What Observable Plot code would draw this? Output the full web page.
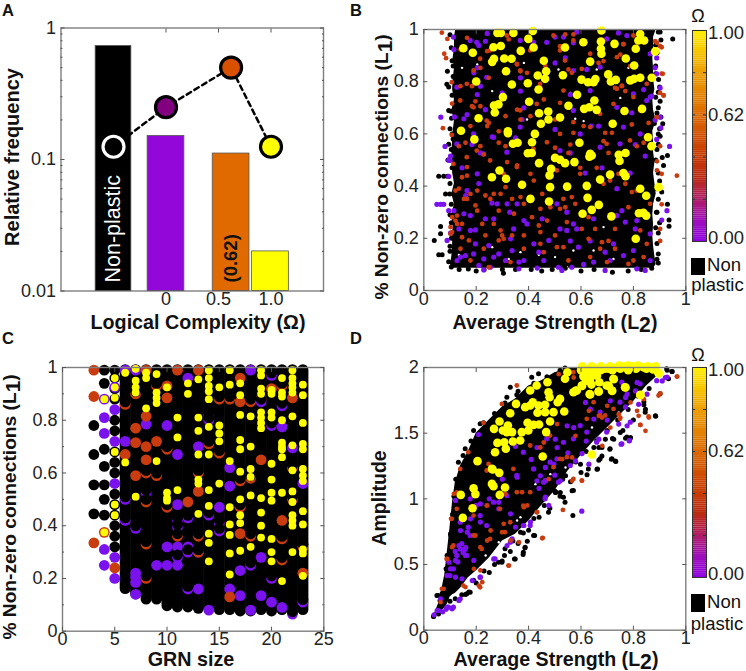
<!DOCTYPE html>
<html><head><meta charset="utf-8">
<script src="https://cdn.jsdelivr.net/npm/d3@7"></script>
<script src="https://cdn.jsdelivr.net/npm/@observablehq/plot@0.6"></script>
<style>
html,body{margin:0;padding:0;background:#fff}
#page{position:relative;width:746px;height:671px;overflow:hidden;font-family:"Liberation Sans",sans-serif;color:#111}
#page svg{position:absolute;overflow:visible}
.t{position:absolute;white-space:nowrap;line-height:1;transform:translate(-50%,-50%)}
.b{font-weight:bold}
.t sub{font-size:1.08em;line-height:0;vertical-align:-0.15em}
</style></head><body><div id="page"></div>
<script>
const PURPLE="#7a12ee", RED="#c83c10", YELLOW="#ffff00", FRAME="#7f7f7f";

// ---- Panel A
const aNames=["Non-plastic","0","0.62","1.0"];
const aBarX1=[-0.67,-0.175,0.445,0.82];
const aBarX2=[-0.33,0.175,0.795,1.17];
const aBarH=[0.73,0.151,0.111,0.02];
const aBarFill=["#000000","#9208d8","#e06a00","#ffff00"];
const aLineX=[-0.5,0,0.62,1];
const aLineY=[0.125,0.25,0.5,0.125];
const aDotFill=["#000000","#800080","#d95000","#ffff00"];
const aDotStroke=["#ffffff","#000000","#000000","#000000"];

// ---- Panel B: dense black mass outline (Non-plastic), then readable dots
const bMassY=[1,.97,.93,.89,.85,.81,.77,.73,.69,.65,.61,.57,.53,.49,.45,.41,.37,.33,.29,.25,.21,.17,.13,.1,.085];
const bMassL=[.122,.117,.117,.112,.117,.112,.11,.117,.107,.117,.112,.11,.107,.11,.11,.117,.107,.117,.107,.112,.11,.11,.107,.102,.107];
const bMassR=[.887,.877,.877,.874,.877,.877,.882,.874,.877,.887,.874,.877,.877,.882,.877,.882,.887,.877,.874,.877,.874,.877,.882,.887,.877];
const bGaps=[[.146,.853],[.204,.866],[.261,.764],[.382,.872],[.394,.655],[.514,.847],[.66,.847],[.75,.738],[.578,.658],[.61,.649],[.559,.757],[.781,.853],[.261,.166],[.369,.147],[.439,.137],[.134,.136],[.324,.121],[.501,.128],[.648,.153],[.724,.121],[.546,.089],[.686,.243],[.571,.153]];
const bBlack=[[.057,.438],[.076,.438],[.09,.438],[.083,.37],[.099,.37],[.064,.245],[.064,.217],[.04,.192],[.057,.137],[.07,.137],[.095,.69],[.088,.79],[.095,.78],[.09,.84],[.1,.62],[.095,.56],[.092,.5],[.105,.09],[.135,.08],[.17,.082],[.2,.075],[.23,.08],[.3,.08],[.304,.066],[.35,.08],[.41,.08],[.45,.075],[.49,.08],[.54,.085],[.6,.075],[.65,.08],[.72,.07],[.78,.075],[.83,.08],[.87,.085],[.95,.964],[.902,.99],[.905,.96],[.915,.479],[.93,.33],[.936,.27],[.936,.246],[.908,.377],[.89,.39],[.9,.78],[.895,.7],[.9,.62],[.895,.56],[.895,.14],[.89,.18],[.89,.3],[.885,.86],[.91,.51],
[.1,.98],[.105,.93],[.108,.88],[.112,.86],[.112,.82],[.108,.748],[.104,.687],[.106,.66],[.108,.6],[.112,.58],[.105,.54],[.108,.47],[.1,.41],[.105,.33],[.1,.29],[.105,.26],[.105,.2],[.1,.17],[.1,.15],[.095,.11],
[.895,.99],[.885,.94],[.89,.91],[.896,.808],[.902,.725],[.895,.76],[.89,.68],[.905,.665],[.912,.639],[.895,.6],[.902,.591],[.89,.54],[.93,.517],[.895,.45],[.9,.42],[.895,.35],[.888,.3],[.9,.26],[.895,.22],[.89,.12],[.895,.105],[.885,.83],[.885,.74],[.88,.64],[.885,.5],[.885,.24]];
const bPurple=[[.095,.5],[.146,.47],[.204,.447],[.095,.437],[.21,.41],[.16,.364],[.26,.335],[.05,.33],[.064,.33],[.076,.33],[.095,.306],[.153,.294],[.178,.287],[.328,.3],[.235,.275],[.267,.275],[.394,.255],[.197,.232],[.178,.23],[.343,.236],[.089,.192],[.102,.22],[.248,.172],[.14,.128],[.159,.134],[.19,.14],[.229,.121],[.267,.128],[.312,.115],[.127,.115],[.21,.096],[.229,.079],[.363,.083],[.433,.086],[.382,.115],[.318,.332],[.356,.332],[.452,.275],[.42,.179],[.477,.192],[.337,.153],[.286,.14],[.616,.45],[.68,.47],[.508,.332],[.737,.39],[.788,.45],[.584,.236],[.546,.23],[.52,.236],[.648,.275],[.724,.179],[.769,.262],[.813,.268],[.864,.217],[.928,.306],[.908,.27],[.59,.166],[.559,.19],[.514,.089],[.565,.089],[.61,.1],[.692,.147],[.762,.134],[.864,.115],[.813,.083],[.692,.077],[.8,.153],[.635,.19],[.737,.287],[.711,.115],[.065,.664],[.081,.552],[.938,.552],[.113,.971],[.177,.958],[.202,.951],[.419,.951],[.469,.951],[.501,.971],[.584,.99],[.698,.964],[.775,.977],[.864,.907],[.889,.83],[.864,.741],[.902,.664],[.826,.6],[.749,.562],[.673,.549],[.597,.6],[.52,.536],[.368,.626],[.266,.587],[.19,.6],[.126,.562],[.1,.498],[.228,.524],[.317,.53],[.126,.779],[.24,.817],[.571,.843],[.673,.856],[.8,.753],[.635,.766],[.571,.69],[.444,.639],[.851,.728],[.737,.702],[.533,.971],[.368,.958],[.762,.626],
[.21,.939],[.235,.955],[.242,.985],[.115,.923],[.191,.834],[.204,.853],[.369,.815],[.216,.783],[.369,.764],[.204,.751],[.235,.693],[.382,.7],[.165,.674],[.153,.658],[.117,.665],[.261,.589],[.216,.527],[.184,.559],[.35,.585],[.102,.515],[.299,.757],[.375,.655],
[.622,.847],[.571,.949],[.54,.891],[.501,.872],[.501,.617],[.559,.751],[.794,.681],[.639,.63],[.667,.63],[.839,.77],[.889,.891],[.883,.853],[.902,.776],[.87,.745],[.883,.653],[.905,.623],[.807,.559],[.559,.527],[.845,.515],[.889,.579],[.743,.987],
[.165,.383],[.28,.332],[.134,.236],[.115,.306],[.197,.179],[.331,.198],[.382,.268],[.458,.115],[.439,.147],[.254,.089],[.363,.109],[.546,.3],[.756,.306],[.571,.255],[.807,.236],[.648,.109],[.845,.077],[.527,.077]];
const bRed=[[.146,.434],[.165,.44],[.121,.383],[.153,.351],[.165,.351],[.197,.326],[.121,.268],[.127,.255],[.102,.243],[.223,.255],[.267,.255],[.369,.358],[.293,.23],[.305,.198],[.337,.351],[.254,.351],[.293,.37],[.356,.479],[.204,.306],[.439,.249],[.445,.313],[.146,.204],[.146,.255],[.382,.211],[.235,.211],[.178,.115],[.248,.089],[.331,.109],[.458,.147],[.445,.224],[.42,.421],[.407,.447],[.108,.281],[.102,.217],[.235,.364],[.305,.447],[.89,.495],[.908,.447],[.966,.44],[.908,.33],[.902,.236],[.902,.19],[.686,.409],[.508,.46],[.66,.47],[.546,.262],[.54,.319],[.578,.332],[.501,.211],[.629,.198],[.705,.19],[.73,.16],[.794,.377],[.781,.319],[.552,.115],[.673,.16],[.781,.102],[.839,.128],[.629,.281],[.743,.447],[.89,.46],[.8,.115],[.533,.351],[.069,.988],[.09,.964],[.078,.907],[.085,.89],[.073,.622],[.107,.596],[.912,.83],[.915,.747],[.908,.932],[.883,.955],[.253,.92],[.215,.888],[.19,.843],[.368,.843],[.355,.868],[.317,.977],[.495,.977],[.571,.958],[.539,.881],[.603,.849],[.737,.773],[.756,.785],[.8,.741],[.724,.715],[.673,.677],[.571,.645],[.52,.6],[.47,.568],[.419,.543],[.24,.651],[.19,.702],[.139,.728],[.368,.69],[.431,.715],[.202,.536],[.253,.498],[.355,.473],[.164,.511],[.113,.485],[.635,.626],[.597,.447],[.698,.562],[.787,.575],[.826,.69],[.851,.792],[.889,.664],[.52,.92],[.406,.92],[.635,.907],[.737,.894],[.8,.977],[.762,.945],[.444,.792],[.533,.766],[.164,.792],[.107,.798],
[.108,.716],[.14,.923],[.242,.917],[.216,.853],[.369,.84],[.356,.866],[.248,.815],[.184,.783],[.14,.783],[.184,.706],[.216,.706],[.197,.725],[.178,.63],[.248,.642],[.242,.63],[.159,.566],[.216,.553],[.286,.566],[.229,.521],[.356,.693],[.312,.668],[.369,.655],[.407,.668],[.458,.732],[.394,.834],[.464,.86],[.324,.962],[.165,.968],[.445,.776],[.312,.553],[.134,.553],[.286,.61],
[.54,.981],[.571,.981],[.52,.936],[.552,.847],[.565,.834],[.667,.872],[.756,.783],[.769,.764],[.73,.776],[.52,.719],[.514,.668],[.501,.655],[.61,.63],[.692,.604],[.686,.572],[.571,.604],[.559,.559],[.705,.527],[.902,.936],[.908,.831],[.915,.748],[.902,.757],[.902,.553],[.89,.949],[.762,.943],[.75,.904],[.686,.879],[.66,.693],[.794,.636],[.839,.566],[.826,.821],[.858,.642],[.813,.553],[.552,.527],[.718,.604],[.788,.86],[.501,.547],
[.134,.39],[.178,.37],[.204,.383],[.267,.37],[.312,.396],[.382,.332],[.413,.281],[.344,.294],[.286,.306],[.127,.287],[.108,.224],[.172,.192],[.286,.192],[.337,.211],[.229,.16],[.382,.16],[.445,.179],[.14,.16],[.299,.211],[.483,.319],[.471,.268],[.165,.473],[.318,.492],[.477,.434],[.452,.37],
[.597,.47],[.711,.421],[.769,.409],[.565,.358],[.52,.313],[.603,.236],[.654,.236],[.73,.236],[.826,.23],[.851,.179],[.68,.185],[.635,.128],[.699,.109],[.533,.166],[.864,.332],[.813,.383],[.508,.166]];
const bYellow=[[.151,.928],[.187,.911],[.2,.801],[.209,.66],[.142,.612],[.193,.579],[.26,.434],[.289,.46],[.314,.428],[.375,.405],[.407,.351],[.478,.341],[.482,.396],[.48,.441],[.486,.466],[.44,.488],[.397,.526],[.412,.527],[.413,.568],[.424,.6],[.447,.639],[.44,.679],[.475,.686],[.476,.655],[.52,.663],[.552,.708],[.585,.75],[.612,.696],[.632,.702],[.651,.728],[.66,.692],[.721,.639],[.766,.688],[.833,.696],[.856,.587],[.869,.553],[.77,.527],[.744,.52],[.747,.496],[.762,.45],[.77,.438],[.711,.444],[.673,.425],[.622,.401],[.625,.355],[.641,.309],[.668,.328],[.606,.294],[.716,.284],[.821,.296],[.838,.298],[.849,.287],[.809,.198],[.896,.396],[.849,.363],[.826,.39],[.575,.492],[.539,.488],[.52,.501],[.501,.508],[.594,.566],[.635,.524],[.641,.517],[.632,.513],[.547,.398],[.281,.987],[.294,.987],[.342,.987],[.416,.994],[.399,.964],[.419,.931],[.294,.937],[.266,.932],[.37,.918],[.539,.931],[.609,.951],[.676,.954],[.678,.996],[.676,.926],[.678,.907],[.728,.945],[.826,.983],[.819,.958],[.841,.958],[.809,.926],[.883,.916],[.771,.889],[.635,.877],[.458,.88],[.268,.888],[.261,.876],[.307,.889],[.335,.888],[.314,.84],[.467,.84],[.435,.824],[.463,.811],[.397,.794],[.336,.789],[.438,.77],[.531,.825],[.602,.808],[.627,.798],[.648,.798],[.655,.81],[.704,.828],[.714,.801],[.733,.807],[.788,.805],[.803,.862],[.803,.811],[.826,.815],[.87,.815],[.302,.741],[.268,.709],[.285,.713],[.271,.682],[.402,.723],[.321,.61],[.321,.603],[.34,.562],[.358,.566]];

// ---- Panel C: GRN-size columns
const cColSize=[6,7,8,9,10,11,12,13,14,15,16,17,18,19,20,21,22,23];
const cColLow=[.16,.14,.12,.12,.095,.09,.09,.085,.085,.08,.08,.075,.075,.08,.075,.08,.07,.08];
const cBlack=[[3,.78],[3,.67],[3,.555],[3,.445],[4,.99],[4,.94],[4,.69],[4,.625],[4,.555],[4,.5],[4,.44],[5,.99],[5,.96],[5,.92],[5,.88],[5,.8],[5,.76],[5,.68],[5,.64],[5,.6],[5,.52],[5,.48],[5,.44],[5,.4],[5,.36],[5,.32]];
const cPurple=[[4,.88],[4,.81],[4,.75],[4,.31],[4,.25],[5,.925],[5,.84],[5,.72],[5,.56],[5,.28],[5,.2],[6,.99],[6,.72],[7,.99],[7,.22],[7,.205],[7,.185],[7,.14],[8,.785],[9,.25],[10,.78],[10,.25],[10,.32],[11,.67],[11,.48],[11,.32],[11,.25],[12,.96],[12,.32],[13,.7],[13,.16],[14,.08],[15,.47],[16,.62],[16,.16],[16,.55],[17,.135],[17,.23],[18,.08],[18,.99],[19,.135],[19,.28],[20,.11],[21,.09],[21,.775],[22,.695],[23,.56]];
const cRed=[[3,.99],[3,.89],[3,.335],[4,.375],[5,.24],[6,.67],[7,.77],[7,.715],[7,.59],[8,.99],[8,.815],[8,.7],[8,.65],[9,.72],[10,.93],[10,.885],[11,.99],[12,.49],[13,.99],[13,.53],[16,.13],[17,.96],[17,.87],[17,.37],[19,.65],[19,.88],[20,.92],[21,.42],[22,.885],[23,.22]];
const cCrescentPurple=[[6,.42],[7,.39],[8,.525],[11,.42],[11,.395],[12,.43],[14,.44],[15,.38],[15,.41],[12,.16],[20,.97],[22,.08],[22,.065],[23,.11],[20,.2],[19,.87],[14,.82],[14,.8],[18,.25],[11,.28],[12,.3],[13,.3],[6,.5],[21,.855],[20,.78]];
const cCrescentRed=[[8,.49],[10,.47],[11,.36],[13,.36],[13,.3],[14,.71],[15,.675],[15,.88],[17,.57],[17,.47],[18,.87],[18,.58],[21,.93],[16,.88],[9,.59],[8,.6],[23,.32],[22,.62],[22,.5],[21,.27],[10,.69],[21,.35],[18,.36],[6,.86],[13,.6],[8,.33],[8,.2],[7,.9],[9,.93]];
const cYellowSizes=[4,5,6,7,8,9,10,11,12,13,14,15,16,17,18,19,20,21,22,23];
const cYellowRows=[[.88,.375],[.96,.925,.885,.68,.48,.44],[.98,.64],[.995,.95,.925,.905,.51],[.98,.96,.845],[.975,.905,.885,.865,.645],[.925,.525,.505,.495],[.81,.735,.535],[.94,.9],[.955,.81,.76,.67,.575,.56,.445],[.99,.96,.93,.91,.88,.775,.67,.535,.475,.37,.335,.265],[.925,.78,.75,.72,.56],[.99,.935,.645,.47,.405,.365,.295,.215],[.94,.895,.82,.725,.69,.605,.5,.44,.41,.305],[.815,.7,.615,.585,.515,.32],[.99,.97,.92,.9,.83,.81,.79,.77,.505,.45,.4,.355],[.915,.9,.83,.81,.635,.575,.525,.495,.35,.3,.265],[.96,.905,.89,.8,.715,.7,.69,.66,.525,.19],[.99,.96,.94,.925,.905,.815,.705,.61,.53,.49,.44,.42,.4,.3],[.935,.895,.79,.71,.69,.615,.59,.57,.455,.405,.31,.295,.21]];

// ---- Panel D
const dMassX=[.04,.06,.08,.09,.1,.11,.12,.14,.17,.2,.25,.3,.35,.4,.45,.5,.55,.6,.65,.7,.75,.8,.85,.9];
const dMassLow=[.1,.13,.17,.2,.25,.27,.28,.32,.4,.45,.55,.68,.73,.83,.95,1.06,1.21,1.33,1.44,1.54,1.64,1.74,1.86,1.95];
const dMassHigh=[.12,.22,.42,.6,.78,.98,1.12,1.25,1.36,1.5,1.6,1.7,1.76,1.86,1.9,1.96,1.99,2,2,2,2,2,1.99,1.97];
const dGaps=[[.369,.86],[.286,.67],[.299,.645],[.439,1.089],[.356,.835],[.236,.569],[.7,1.53],[.693,1.505],[.642,1.543],[.744,1.657],[.483,1.188],[.541,1.239],[.426,1.112],[.661,1.429],[.623,1.365],[.585,1.239]];
const dBlack=[[.037,.104],[.056,.124],[.05,.264],[.062,.226],[.075,.213],[.177,.289],[.164,.277],[.298,.518],[.285,.518],[.349,.543],[.38,.594],[.387,.632],[.419,.721],[.476,.898],[.533,1.013],[.569,.873],[.571,1.063],[.539,.975],[.505,1.051],[.628,1.228],[.663,1.228],[.673,1.305],[.718,1.305],[.733,1.284],[.711,1.381],[.787,1.457],[.775,1.47],[.885,1.629],[.845,1.66],[.19,1.52],[.215,1.571],[.228,1.579],[.33,1.85],[.355,1.792],[.317,1.774],[.412,1.926],[.438,1.952],[.539,1.997],[.947,1.97],[.927,1.99],[.934,1.914],[.902,1.8],[.158,1.381],[.132,1.279],[.103,.721],[.09,.569],[.085,.467],[.2,.36],[.25,.44],[.27,.5],[.33,.6],[.36,.66],[.4,.76],[.44,.86],[.46,.95],[.52,1.02],[.56,1.13],[.6,1.2],[.64,1.33],[.68,1.39],[.72,1.46],[.76,1.52],[.8,1.6],[.84,1.74],
[.038,.107],[.054,.264],[.172,.29],[.159,.272],[.299,.526],[.346,.543],[.308,.569],[.379,.576],[.386,.627],[.395,.678],[.423,.721],[.369,.746],[.481,.929],[.112,.891],[.102,.734],[.089,.569],[.089,.467],
[.884,1.632],[.846,1.683],[.84,1.716],[.948,1.97],[.929,1.98],[.789,1.467],[.77,1.462],[.731,1.289],[.716,1.302],[.71,1.378],[.68,1.327],[.668,1.294],[.661,1.226],[.623,1.183],[.566,1.061],[.541,1.175],[.502,1.048],[.521,1.048],[.693,1.454],[.725,1.454],[.75,1.505],[.598,1.264],[.668,1.391],[.649,1.391],
[.07,.19],[.085,.24],[.07,.28],[.1,.22],[.12,.24],[.145,.27],[.19,.38],[.23,.45],[.31,.62],[.34,.68],[.38,.74],[.42,.85],[.46,1],[.5,1.06],[.53,1.15],[.58,1.28],[.62,1.36],[.66,1.44],[.7,1.52],[.74,1.6],[.78,1.68],[.82,1.78],[.86,1.84],[.11,.88],[.115,1.02],[.122,1.15],[.15,1.33],[.18,1.44],[.23,1.53],[.27,1.65],[.31,1.73],[.36,1.82],[.42,1.88],[.47,1.93],[.52,1.98]];
const dPurple=[[.603,.906],[.209,1.49],[.039,.117],[.056,.15],[.113,.175],[.094,.175],[.139,.239],[.215,.404],[.272,.543],[.33,.67],[.38,.797],[.406,.797],[.463,1],[.508,1.305],[.482,1.279],[.571,1.457],[.66,1.431],[.756,1.419],[.785,1.444],[.928,1.926],[.756,1.888],[.139,.619],[.158,.619],[.126,.569],[.164,.569],[.113,.467],[.1,.416],[.177,.721],[.24,.797],[.317,1.025],[.355,1.178],[.419,1.228],[.457,1.127],[.469,1.457],[.533,1.431],[.597,1.558],[.673,1.66],[.749,1.736],[.788,1.584],[.698,1.508],[.622,1.508],[.826,1.876],[.889,1.9],[.38,1.355],[.266,.975],[.215,.873],[.177,1],[.139,.822],[.17,.784],[.514,1.127],[.559,1.254],[.145,.66],[.15,.59],[.13,.52],[.16,.63],[.12,.6],[.072,.14],[.085,.16],[.44,1.08],[.5,1.18],[.55,1.35],[.62,1.44],[.7,1.6],[.77,1.7],[.82,1.72],[.35,1.4],[.41,1.3],[.3,1.15],[.25,1],[.2,.95],
[.051,.15],[.089,.175],[.108,.163],[.134,.226],[.064,.239],[.14,.62],[.153,.607],[.134,.645],[.159,.569],[.121,.531],[.096,.518],[.102,.467],[.089,.416],[.121,.404],[.146,.391],[.185,.378],[.216,.404],[.191,.531],[.267,.543],[.178,.848],[.216,.823],[.121,.988],[.166,.746],[.14,.759],[.318,.645],[.337,.696],[.35,.785],[.382,.797],[.407,.823],[.464,1.013],[.477,.95],[.356,1.165],[.464,1.14],[.286,.975],[.286,.924],[.216,.962],[.331,.886],
[.753,1.416],[.784,1.442],[.63,1.264],[.579,1.289],[.604,1.345],[.668,1.454],[.814,1.886],[.77,1.772],[.776,1.797],[.922,1.924],[.91,1.898],[.712,1.746],[.636,1.683],[.572,1.543],[.547,1.556],[.502,1.454],[.509,1.391],[.432,1.391],[.464,1.239],[.496,1.264],[.432,1.137],[.464,1.137],[.617,1.734],[.649,1.607],[.744,1.569],[.776,1.556],[.808,1.822],[.852,1.797],[.445,1.175],[.521,1.137]];
const dRed=[[.966,1.931],[.454,.703],[.531,.916],[.323,.492],[.215,.327],[.151,.34],[.069,.315],[.09,.543],[.107,.848],[.113,.645],[.298,1.723],[.228,1.579],[.355,1.863],[.17,1.355],[.247,1.266],[.24,1.216],[.139,1.228],[.858,1.627],[.826,1.563],[.896,1.787],[.673,1.635],[.724,1.685],[.622,1.609],[.52,1.305],[.546,1.317],[.495,1.241],[.571,1.152],[.603,1.14],[.431,.898],[.31,.746],[.221,.619],[.19,.721],[.253,.695],[.355,1.051],[.38,.949],[.406,1.051],[.291,.924],[.482,1.482],[.406,1.406],[.571,1.964],[.692,1.635],[.749,1.609],[.648,1.736],[.342,1.228],[.24,.949],[.19,.873],[.126,.924],[.126,1.05],[.33,.822],
[.452,.7],[.087,.543],[.104,.848],[.115,1.038],[.076,.315],[.064,.213],[.21,.34],[.223,.366],[.159,.328],[.325,.492],[.216,.455],[.191,.467],[.108,.632],[.216,.632],[.242,.683],[.255,.759],[.197,.721],[.299,.746],[.305,.81],[.331,.683],[.363,.67],[.395,.95],[.433,.899],[.375,1.051],[.312,1.038],[.242,.95],[.382,.937],
[.967,1.931],[.827,1.563],[.859,1.619],[.82,1.632],[.903,1.802],[.84,1.759],[.7,1.708],[.668,1.632],[.68,1.619],[.63,1.67],[.712,1.543],[.75,1.619],[.566,1.315],[.528,1.302],[.681,1.404],[.604,1.137],[.566,1.137],[.572,1.924],[.445,1.391],[.509,1.569],[.477,1.15],[.515,1.949],[.579,1.48],[.458,1.429],[.814,1.67],[.846,1.518],[.789,1.734],[.744,1.645]];
const dYellow=[[.149,.855],[.186,.929],[.141,1.03],[.19,1.081],[.197,1.036],[.205,1.287],[.26,1.114],[.266,1.096],[.29,1.03],[.31,1.086],[.26,1.228],[.263,1.223],[.288,1.198],[.272,1.355],[.281,1.426],[.313,1.381],[.307,1.431],[.34,1.437],[.368,1.444],[.454,1.322],[.268,1.533],[.289,1.589],[.33,1.652],[.352,1.723],[.321,1.558],[.302,1.52],[.317,1.508],[.337,1.508],[.374,1.508],[.399,1.52],[.396,1.579],[.419,1.563],[.44,1.566],[.467,1.508],[.482,1.589],[.387,1.698],[.406,1.711],[.416,1.736],[.434,1.655],[.438,1.711],[.463,1.716],[.463,1.66],[.495,1.66],[.536,1.665],[.52,1.761],[.511,1.736],[.476,1.812],[.48,1.774],[.431,1.863],[.406,1.825],[.472,1.888],[.539,1.914],[.548,1.964],[.571,1.812],[.584,1.825],[.603,1.863],[.635,1.914],[.641,1.338],[.635,1.794],[.667,1.817],[.67,1.888],[.698,1.863],[.718,1.825],[.724,1.914],[.768,1.85],[.826,1.792],[.896,1.957],
[.6,1.98],[.615,1.97],[.63,1.99],[.645,1.97],[.66,1.99],[.675,1.98],[.69,1.99],[.705,1.99],[.72,1.98],[.735,2],[.75,1.99],[.765,2.01],[.78,1.98],[.795,2.01],[.81,1.99],[.825,2.01],[.84,2],[.855,2.01],[.87,2],[.885,2.01],[.61,1.93],[.625,1.95],[.65,1.95],[.62,1.9],[.64,1.87],
[.605,2.01],[.64,2.01],[.675,2.01],[.71,2.01],[.745,2.015],[.78,2.015],[.815,2.015],[.85,1.99],[.875,1.985],[.623,1.9],[.604,1.86],[.579,1.822],[.636,1.949],[.661,1.937],[.61,1.937],[.725,1.911],[.706,1.86],[.719,1.822],[.77,1.848],[.827,1.789],[.668,1.817],[.633,1.797],[.897,1.954]];

// ---- Colour bar
const cbStops=[0,.1,.2,.3,.45,.62,.8,1];
const cbColors=["#9000e0","#a010b8","#b01c60","#bc2a10","#cc4400","#dd7000","#eda000","#fff200"];
const cbTicks=[.2,.4,.6,.8];
const cbLabelAt=[0,.6,1];
const cbLabels=["0.00","0.62","1.00"];
const cbLabelDy=[-3,0,2.5];

const page=document.getElementById("page");
function place(svg,left,top){svg.style.left=left+"px";svg.style.top=top+"px";page.appendChild(svg);}
function label(html,x,y,size,bold,rot){
  const d=document.createElement("div");d.className="t"+(bold?" b":"");d.innerHTML=html;
  d.style.left=x+"px";d.style.top=y+"px";d.style.fontSize=size+"px";
  if(rot)d.style.transform="translate(-50%,-50%) rotate(-90deg)";
  page.appendChild(d);
}
const axisStyle={stroke:"#555",strokeWidth:1};
function axes(xv,yv,xMinor,yMinor,xf,yf,xPad=7){
  const m=[Plot.frame({stroke:FRAME,strokeWidth:1.4})];
  const tick=(fn,anchor,vals,size,opts={})=>fn(vals,{anchor,tickSize:-size,tickPadding:size+4,...axisStyle,...opts});
  m.push(tick(Plot.axisX,"bottom",xv,4,{tickFormat:xf,fontSize:18,tickPadding:xPad,fill:"#222"}));
  m.push(tick(Plot.axisX,"top",xv,4,{tickFormat:()=>""}));
  m.push(tick(Plot.axisY,"left",yv,4,{tickFormat:yf,fontSize:18,tickPadding:9,fill:"#222"}));
  m.push(tick(Plot.axisY,"right",yv,4,{tickFormat:()=>""}));
  if(xMinor)for(const a of["bottom","top"])m.push(tick(Plot.axisX,a,xMinor,2,{tickFormat:()=>""}));
  if(yMinor)for(const a of["left","right"])m.push(tick(Plot.axisY,a,yMinor,2,{tickFormat:()=>""}));
  return m;
}
const fmtPlain=d=>String(d);
const pts=(a,r,fill,extra={})=>Plot.dot(a,{x:d=>d[0],y:d=>d[1],r,fill,...extra});
const base={style:{fontFamily:"Liberation Sans",fontSize:"18px",background:"transparent",overflow:"visible"},x:{axis:null},y:{axis:null}};

// Panel A
place(Plot.plot({...base,width:373,height:335,marginLeft:60.5,marginRight:50,marginTop:27.5,marginBottom:44.5,
  x:{domain:[-1,1.5],axis:null},y:{type:"log",domain:[.01,1],axis:null},
  marks:[
    ...axes([0,.5,1],[.01,.1,1],null,[.02,.03,.04,.05,.06,.07,.08,.09,.2,.3,.4,.5,.6,.7,.8,.9],d=>d===0?"0":d===.5?"0.5":"1.0",d=>String(d),5.5),
    Plot.rect(aNames.map((n,i)=>i),{x1:i=>aBarX1[i],x2:i=>aBarX2[i],y1:.01,y2:i=>aBarH[i],fill:i=>aBarFill[i],stroke:"#555",strokeWidth:.8}),
    Plot.text(["Non-plastic"],{x:-.5,y:.0116,text:d=>d,rotate:-90,textAnchor:"start",fill:"white",fontSize:21.5}),
    Plot.text(["(0.62)"],{x:.62,y:.0116,text:d=>d,rotate:-90,textAnchor:"start",fill:"#111",fontSize:18.5,fontWeight:"bold"}),
    Plot.line(aLineX.map((x,i)=>[x,aLineY[i]]),{x:d=>d[0],y:d=>d[1],stroke:"black",strokeWidth:2.5,strokeDasharray:"5,4"}),
    Plot.dot(aLineX.map((x,i)=>i),{x:i=>aLineX[i],y:i=>aLineY[i],r:10.5,fill:i=>aDotFill[i],stroke:i=>aDotStroke[i],strokeWidth:3.2})
  ]}),0,0);

// Panel B
place(Plot.plot({...base,width:373,height:335,marginLeft:50.3,marginRight:60.7,marginTop:29,marginBottom:45,
  x:{domain:[0,1],axis:null},y:{domain:[0,1],axis:null},
  marks:[
    Plot.areaX(bMassY.map((y,i)=>i),{y:i=>bMassY[i],x1:i=>bMassL[i],x2:i=>bMassR[i],fill:"black"}),
    pts(bGaps,1.2,"white"),
    pts(bBlack,2.5,"black"),pts(bPurple,2.6,PURPLE),pts(bRed,2.4,RED),pts(bYellow,4.3,YELLOW),
    ...axes([0,.2,.4,.6,.8,1],[0,.2,.4,.6,.8,1],null,null,fmtPlain,fmtPlain,5.5)
  ]}),373,0);

// Panel C
place(Plot.plot({...base,width:373,height:336,marginLeft:62,marginRight:49.7,marginTop:32,marginBottom:40.3,
  x:{domain:[0,25],axis:null},y:{domain:[0,1],axis:null},
  marks:[
    Plot.ruleX(cColSize.map((s,i)=>i),{x:i=>cColSize[i],y1:i=>cColLow[i],y2:.99,stroke:"black",strokeWidth:11,strokeLinecap:"round"}),
    pts(cBlack,5.4,"black"),pts(cPurple,5.4,PURPLE),pts(cRed,5.4,RED),
    pts(cCrescentPurple,5.4,PURPLE),pts(cCrescentRed,5.4,RED),
    pts(cCrescentPurple,5.4,"black",{dy:-2.5}),pts(cCrescentRed,5.4,"black",{dy:-2.5}),
    pts(cYellowSizes.flatMap((s,i)=>cYellowRows[i].map(y=>[s,y])),3.9,YELLOW),
    ...axes([0,5,10,15,20,25],[0,.2,.4,.6,.8,1],null,[.1,.3,.5,.7,.9],fmtPlain,fmtPlain,5)
  ]}),0,335);

// Panel D
place(Plot.plot({...base,width:373,height:336,marginLeft:50.3,marginRight:60.7,marginTop:32,marginBottom:41.3,
  x:{domain:[0,1],axis:null},y:{domain:[0,2],axis:null},
  marks:[
    Plot.areaY(dMassX.map((x,i)=>i),{x:i=>dMassX[i],y1:i=>dMassLow[i],y2:i=>dMassHigh[i],fill:"black"}),
    pts(dGaps,1.2,"white"),
    pts(dBlack,2.5,"black"),pts(dPurple,2.6,PURPLE),pts(dRed,2.4,RED),pts(dYellow,4.3,YELLOW),
    ...axes([0,.2,.4,.6,.8,1],[0,.5,1,1.5,2],null,null,fmtPlain,fmtPlain,5)
  ]}),373,335);

// Colour bars
function colorbar(left,top,h){
  const steps=d3.range(0,1,.01);
  place(Plot.plot({width:54,height:h,marginLeft:0,marginRight:40,marginTop:0,marginBottom:0,
    style:base.style,x:{domain:[0,1],axis:null},y:{domain:[0,1],axis:null},
    color:{type:"linear",domain:cbStops,range:cbColors,interpolate:"rgb"},
    marks:[
      Plot.rect(steps,{x1:0,x2:1,y1:d=>d,y2:d=>d+.0105,fill:d=>d}),
      Plot.frame({stroke:"#333",strokeWidth:1}),
      Plot.ruleY(cbTicks,{x1:0,x2:.22,stroke:"#333",strokeWidth:1}),
      Plot.ruleY(cbTicks,{x1:.78,x2:1,stroke:"#333",strokeWidth:1}),
      ...cbLabelAt.map((v,i)=>Plot.text([v],{x:1,y:d=>d,text:()=>cbLabels[i],textAnchor:"start",dx:1.5,dy:cbLabelDy[i],fontSize:18.5,fill:"#222"}))
    ]}),left,top);
}
colorbar(691.5,29.5,211);
colorbar(691.5,367,210);

// Legends, titles, panel letters
function legend(topOmega,squareTop,squareH,nonY,plasticY,plasticX){
  label("Ω",698,topOmega,18);
  const s=document.createElement("div");s.style.cssText=`position:absolute;left:691px;top:${squareTop}px;width:14px;height:${squareH}px;background:#000`;page.appendChild(s);
  label("Non",724,nonY,18.5);
  label("plastic",plasticX,plasticY,18.5);
}
legend(16,258,17,265,285,717.5);
legend(355,594,18,602,624,717);

label("A",8,10,16.5,true);label("B",356,10,16.5,true);label("C",8,338,16.5,true);label("D",356,338,16.5,true);
label("Relative frequency",12,157,20,true,true);
label("Logical Complexity (Ω)",198,323,19.7,true);
label("% Non-zero connections (L<sub>1</sub>)",382,167,19.2,true,true);
label("Average Strength (L<sub>2</sub>)",555,323,19.6,true);
label("% Non-zero connections (L<sub>1</sub>)",10,507,19.2,true,true);
label("GRN size",191,659.5,19.7,true);
label("Amplitude",380,498,19.5,true,true);
label("Average Strength (L<sub>2</sub>)",556,659.5,19.6,true);
</script></body></html>
